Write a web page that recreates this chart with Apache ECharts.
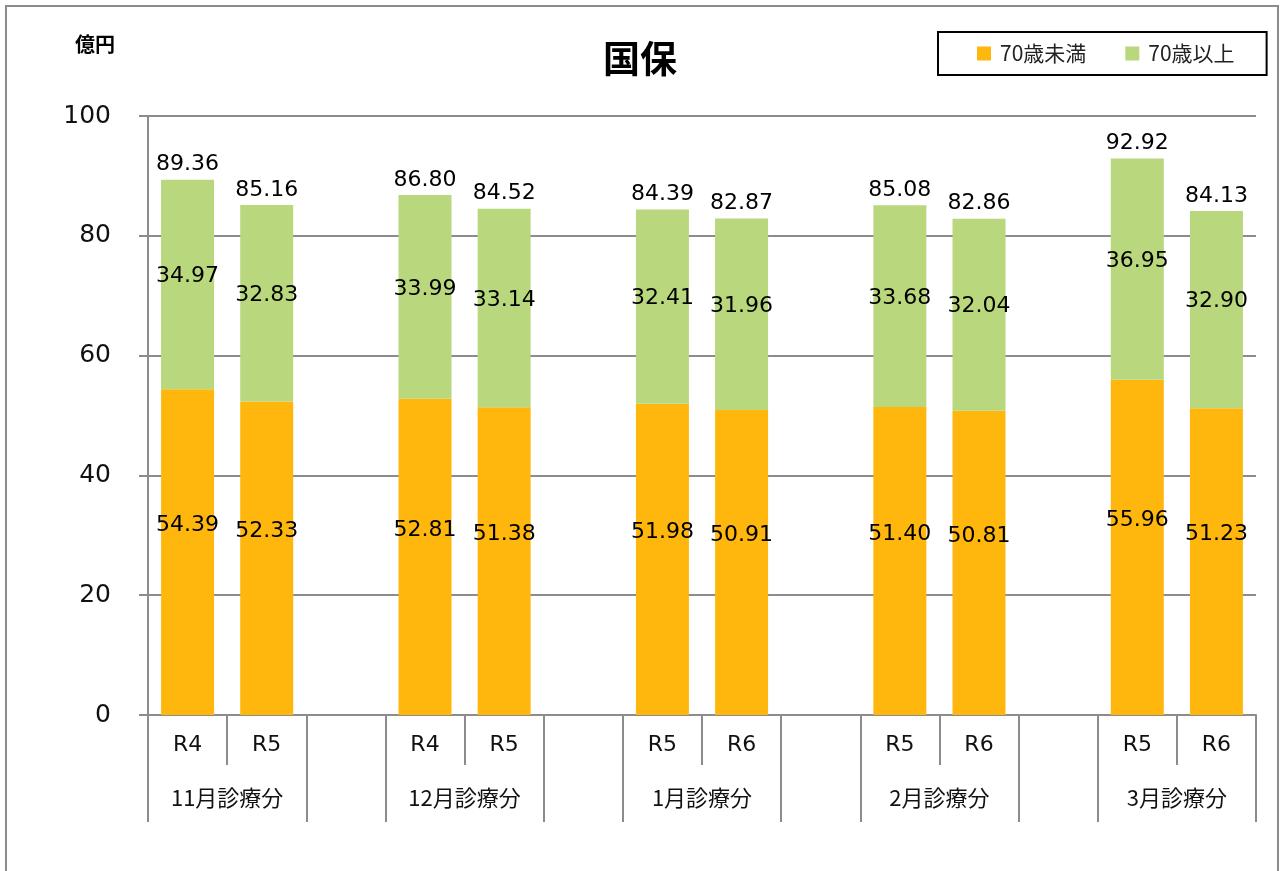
<!DOCTYPE html>
<html>
<head>
<meta charset="utf-8">
<script src="https://cdn.jsdelivr.net/npm/echarts@6/dist/echarts.min.js"></script>
<style>
  html, body { margin: 0; padding: 0; background: #fff; }
  #chart { width: 1280px; height: 871px; }
</style>
</head>
<body>
<div id="chart"></div>
<script>
// bars in order, two per month
const months = ['11月診療分', '12月診療分', '1月診療分', '2月診療分', '3月診療分'];
const periods = ['R4', 'R5', 'R4', 'R5', 'R5', 'R6', 'R5', 'R6', 'R5', 'R6'];
const under70 = [54.39, 52.33, 52.81, 51.38, 51.98, 50.91, 51.40, 50.81, 55.96, 51.23];
const over70 = [34.97, 32.83, 33.99, 33.14, 32.41, 31.96, 33.68, 32.04, 36.95, 32.90];
const totals = [89.36, 85.16, 86.80, 84.52, 84.39, 82.87, 85.08, 82.86, 92.92, 84.13];

const yTicks = [0, 20, 40, 60, 80, 100];

const numFont = '"DejaVu Sans", Verdana, sans-serif';
const jpFont = '"Noto Sans CJK JP", "DejaVu Sans", sans-serif';

// spread the 10 bars over 14 slots: 2 bars then an empty slot
function toSlots(arr, blank) {
    const out = [];
    arr.forEach((v, i) => {
        out.push(v);
        if (i % 2 === 1 && i < arr.length - 1) out.push(blank);
    });
    return out;
}

const slotCats = toSlots(periods, '');
const slotUnder = toSlots(under70, null);
const slotOver = toSlots(over70, null);
const slotTotals = toSlots(totals, null);
const slotZero = slotTotals.map(v => v == null ? null : 0);

// positions of the month-level separators and labels on a 0..14 scale
const groupTicks = [];
const groupCenters = [];
months.forEach((m, i) => {
    groupTicks.push(i * 3, i * 3 + 2);
    groupCenters.push(i * 3 + 1);
});

const chart = echarts.init(document.getElementById('chart'));

const gray = '#8c8c8c';

const option = {
    animation: false,
    textStyle: { fontFamily: numFont },
    title: [
        {
            text: '国保',
            left: 'center',
            top: 35,
            textStyle: { fontFamily: jpFont, fontSize: 37, fontWeight: 'bold', color: '#000' }
        },
        {
            text: '億円',
            left: 70,
            top: 29,
            textStyle: { fontFamily: jpFont, fontSize: 20, fontWeight: 'bold', color: '#000' }
        }
    ],
    legend: {
        data: ['70歳未満', '70歳以上'],
        icon: 'rect',
        left: 938,
        top: 32,
        padding: [11, 32, 11, 39],
        itemWidth: 14,
        itemHeight: 14,
        itemGap: 39,
        borderColor: '#000',
        borderWidth: 2,
        textStyle: { fontFamily: jpFont, fontSize: 21, color: '#222', padding: [0, 0, 0, 4] }
    },
    grid: {
        left: 148,
        right: 24,
        top: 116,
        bottom: 156,
        containLabel: false
    },
    xAxis: [
        {
            type: 'category',
            data: slotCats,
            axisLine: { lineStyle: { color: gray, width: 2 } },
            axisTick: { show: true, interval: 0, length: 50, lineStyle: { color: gray, width: 2 } },
            axisLabel: { interval: 0, margin: 19, fontSize: 22, color: '#111', fontFamily: numFont },
            splitLine: { show: false }
        },
        {
            type: 'value',
            position: 'bottom',
            min: 0,
            max: 14,
            axisLine: { show: false },
            axisTick: {
                show: true,
                customValues: groupTicks,
                length: 107,
                lineStyle: { color: gray, width: 2 }
            },
            axisLabel: {
                customValues: groupCenters,
                margin: 72,
                fontSize: 22,
                color: '#111',
                fontFamily: jpFont,
                formatter: v => months[Math.round((v - 1) / 3)]
            },
            splitLine: { show: false }
        }
    ],
    yAxis: {
        type: 'value',
        min: 0,
        max: 100,
        interval: 20,
        axisLine: { show: true, lineStyle: { color: gray, width: 2 } },
        axisTick: { show: true, length: 9, lineStyle: { color: gray, width: 2 } },
        axisLabel: {
            margin: 37,
            fontSize: 25,
            color: '#111',
            formatter: v => yTicks.includes(v) ? String(v) : ''
        },
        splitLine: { lineStyle: { color: gray, width: 2 } }
    },
    series: [
        {
            name: '70歳未満',
            type: 'bar',
            stack: 'total',
            barWidth: 53,
            data: slotUnder,
            itemStyle: { color: '#FFB70D' },
            label: {
                show: true,
                position: 'inside',
                offset: [0, -27],
                fontSize: 22,
                color: '#000',
                formatter: p => p.value == null ? '' : p.value.toFixed(2)
            }
        },
        {
            name: '70歳以上',
            type: 'bar',
            stack: 'total',
            barWidth: 53,
            data: slotOver,
            itemStyle: { color: '#B9D77C' },
            label: {
                show: true,
                position: 'inside',
                offset: [0, -8],
                fontSize: 22,
                color: '#000',
                formatter: p => p.value == null ? '' : p.value.toFixed(2)
            }
        },
        {
            name: '合計',
            type: 'bar',
            stack: 'total',
            barWidth: 53,
            data: slotZero,
            itemStyle: { color: 'transparent' },
            label: {
                show: true,
                position: 'top',
                distance: 4,
                fontSize: 22,
                color: '#000',
                formatter: p => slotTotals[p.dataIndex] == null ? '' : slotTotals[p.dataIndex].toFixed(2)
            }
        }
    ],
    graphic: [
        {
            type: 'rect',
            shape: { x: 6, y: 6, width: 1272, height: 880 },
            style: { fill: 'none', stroke: '#8c8c8c', lineWidth: 2 },
            silent: true
        }
    ]
};

chart.setOption(option);
</script>
</body>
</html>
